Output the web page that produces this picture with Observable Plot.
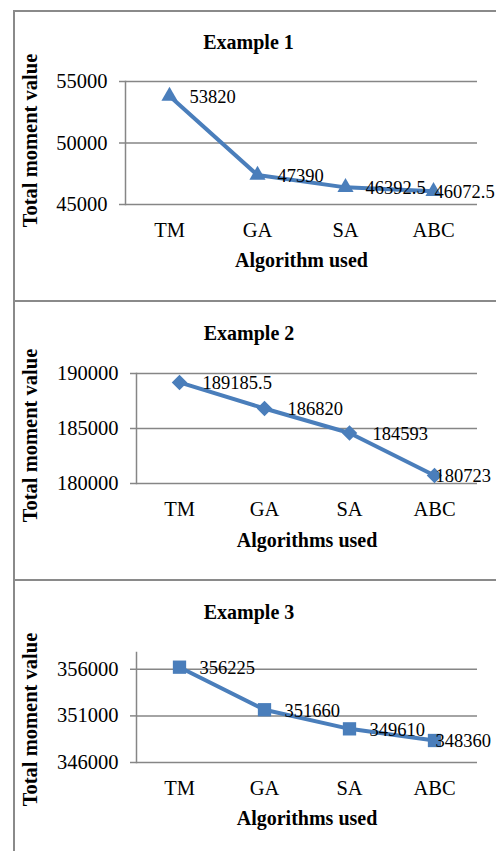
<!DOCTYPE html>
<html>
<head>
<meta charset="utf-8">
<script src="https://cdn.jsdelivr.net/npm/d3@7"></script>
<script src="https://cdn.jsdelivr.net/npm/@observablehq/plot@0.6"></script>
<style>
  html, body { margin: 0; padding: 0; background: #fff; }
  #wrap { position: relative; width: 496px; height: 851px; overflow: hidden; font-family: "Liberation Serif", serif; }
  .panel { position: absolute; left: 0; }
  .bl { position: absolute; background: #8a8a8a; }
</style>
</head>
<body>
<div id="wrap"></div>
<script>
const categories = ["TM", "GA", "SA", "ABC"];
const example1 = [53820, 47390, 46392.5, 46072.5];
const example2 = [189185.5, 186820, 184593, 180723];
const example3 = [356225, 351660, 349610, 348360];
const ticks1 = [45000, 50000, 55000];
const ticks2 = [180000, 185000, 190000];
const ticks3 = [346000, 351000, 356000];
const titles = ["Example 1", "Example 2", "Example 3"];
const xTitles = ["Algorithm used", "Algorithms used", "Algorithms used"];
const yTitle = "Total moment value";

const BLUE = "#4A7EBB";
const GRAY = "#868686";
const wrap = document.getElementById("wrap");

const panels = [
  {values: example1, ticks: ticks1, domain: [45000, 55000], symbol: "triangle", r: 6,
   top: 0, height: 301, mt: 81, mb: 97, ml: 125, titleDy: -39, titleDx: -53,
   xtDy: 56, ytDx: -95, ytDy: -2.5, labDx: 20},
  {values: example2, ticks: ticks2, domain: [180000, 190000], symbol: "diamond2", r: 7,
   top: 301, height: 279, mt: 72, mb: 97, ml: 136, titleDy: -40, titleDx: -58,
   xtDy: 57, ytDx: -106, ytDy: 7, labDx: 23},
  {values: example3, ticks: ticks3, domain: [346000, 357800], symbol: "square", r: 7.5,
   top: 580, height: 271, mt: 72, mb: 89, ml: 136, titleDy: -40, titleDx: -58,
   xtDy: 56, ytDx: -106, ytDy: 12, labDx: 20}
];

panels.forEach((p, k) => {
  const data = categories.map((c, i) => ({cat: c, v: p.values[i], i}));
  const n = data.length;
  const chart = Plot.plot({
    width: 496,
    height: p.height,
    marginTop: p.mt,
    marginBottom: p.mb,
    marginLeft: p.ml,
    marginRight: 19,
    style: {fontFamily: "Liberation Serif", fontSize: "20px", background: "transparent", overflow: "visible", color: "#000"},
    x: {type: "point", domain: categories, padding: 0.5},
    y: {domain: p.domain},
    marks: [
      Plot.gridY(p.ticks, {stroke: GRAY, strokeOpacity: 1, strokeWidth: 1.5}),
      Plot.frame({anchor: "left", stroke: GRAY, strokeWidth: 1.5}),
      Plot.axisY({ticks: p.ticks, tickSize: 6, tickPadding: 12, stroke: GRAY, strokeWidth: 1.5, fontSize: 20.5, label: null, tickFormat: d => String(d)}),
      Plot.axisX({tickSize: 0, tickPadding: 18, fontSize: 20.5, label: null}),
      Plot.line(data, {x: "cat", y: "v", stroke: BLUE, strokeWidth: 4}),
      Plot.dot(data, {x: "cat", y: "v", symbol: p.symbol, r: p.r, fill: BLUE, stroke: "none"}),
      Plot.text(data.filter(d => d.i < n - 1), {x: "cat", y: "v", text: d => String(d.v), textAnchor: "start", dx: p.labDx, dy: 1, fontSize: 18.5, fill: "#000"}),
      Plot.text(data.filter(d => d.i === n - 1), {x: "cat", y: "v", text: d => String(d.v), textAnchor: "start", dx: 1, dy: 1, fontSize: 18.5, fill: "#000"}),
      Plot.text([titles[k]], {text: d => d, frameAnchor: "top", dy: p.titleDy, dx: p.titleDx, fontSize: 20, fontWeight: "bold", lineAnchor: "middle", textAnchor: "middle", fill: "#000"}),
      Plot.text([xTitles[k]], {text: d => d, frameAnchor: "bottom", dy: p.xtDy, fontSize: 20, fontWeight: "bold", lineAnchor: "middle", textAnchor: "middle", fill: "#000"}),
      Plot.text([yTitle], {text: d => d, frameAnchor: "left", dx: p.ytDx, dy: p.ytDy, rotate: -90, fontSize: 20.5, fontWeight: "bold", lineAnchor: "middle", textAnchor: "middle", fill: "#000"})
    ]
  });
  chart.classList.add("panel");
  chart.style.top = p.top + "px";
  chart.style.position = "absolute";
  wrap.appendChild(chart);
});

// table borders
function line(x, y, w, h) {
  const d = document.createElement("div");
  d.className = "bl";
  d.style.left = x + "px"; d.style.top = y + "px";
  d.style.width = w + "px"; d.style.height = h + "px";
  wrap.appendChild(d);
}
line(13, 10, 483, 1.5);
line(13, 10, 1.5, 841);
line(13, 300, 483, 2);
line(13, 579, 483, 2);
</script>
</body>
</html>
